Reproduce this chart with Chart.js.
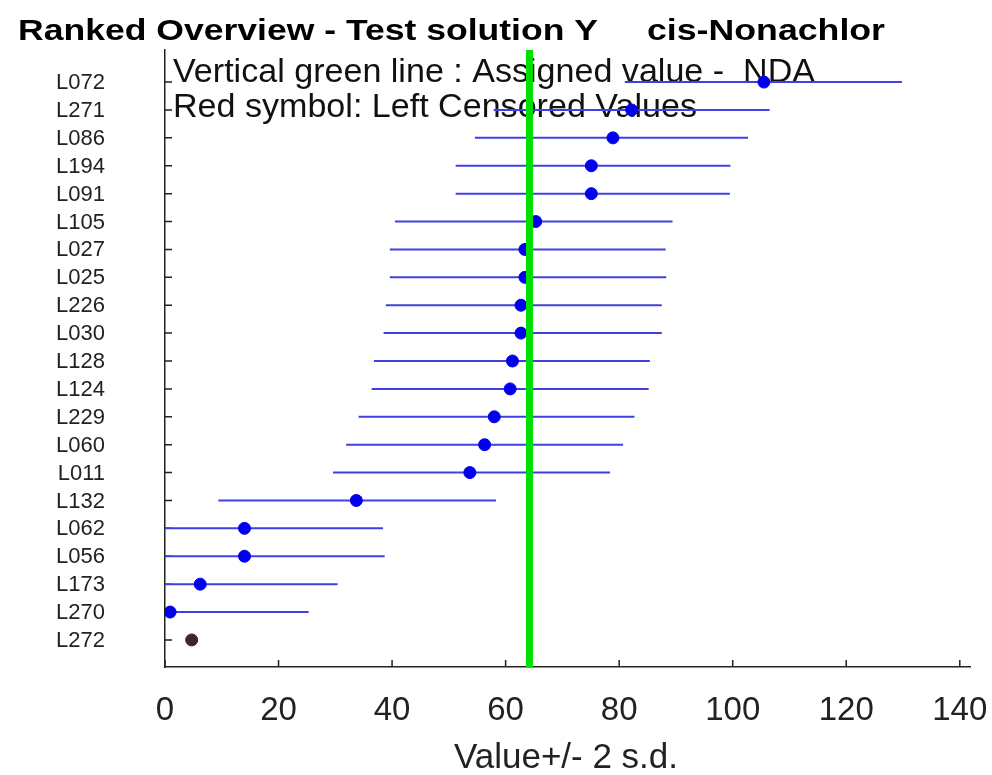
<!DOCTYPE html>
<html lang="en">

<head>
    <meta charset="utf-8" />
    <title>Ranked Overview - cis-Nonachlor</title>
    <script src="https://cdn.jsdelivr.net/npm/chart.js@4"></script>
    <style>
        html, body { margin: 0; padding: 0; background: #fff; }
        #wrap { width: 992px; height: 775px; position: relative; }
    </style>
</head>

<body>
    <div id="wrap"><canvas id="chart"></canvas></div>

    <script>
        // labs ranked from top to bottom
        const labs = ["L072", "L271", "L086", "L194", "L091", "L105", "L027", "L025", "L226", "L030",
                      "L128", "L124", "L229", "L060", "L011", "L132", "L062", "L056", "L173", "L270", "L272"];
        const values = [105.5, 82.2, 78.9, 75.1, 75.1, 65.3, 63.4, 63.4, 62.7, 62.7,
                        61.2, 60.8, 58.0, 56.3, 53.7, 33.7, 14.0, 14.0, 6.2, 0.9, 4.7];
        const lower = [81.0, 57.9, 54.6, 51.2, 51.2, 40.5, 39.6, 39.6, 38.9, 38.5,
                       36.8, 36.4, 34.1, 31.9, 29.6, 9.4, -10.3, -10.2, -17.8, -23.3, null];
        const upper = [129.8, 106.5, 102.7, 99.6, 99.5, 89.4, 88.2, 88.3, 87.5, 87.5,
                       85.4, 85.2, 82.7, 80.7, 78.4, 58.3, 38.4, 38.7, 30.4, 25.3, null];
        // left censored results (drawn with the dark symbol)
        const censored = [false, false, false, false, false, false, false, false, false, false,
                          false, false, false, false, false, false, false, false, false, false, true];
        const assignedValue = 64.2;
        const xTicks = [0, 20, 40, 60, 80, 100, 120, 140];

        const barData = [];
        const dotData = [];
        const censData = [];
        labs.forEach((lab, i) => {
            if (lower[i] !== null) {
                barData.push({ x: lower[i], y: i }, { x: upper[i], y: i }, { x: NaN, y: NaN });
            }
            if (censored[i]) censData.push({ x: values[i], y: i });
            else dotData.push({ x: values[i], y: i });
        });

        const FONT = "'Liberation Sans', Arial, Helvetica, sans-serif";

        // draw text squeezed/stretched to a given width
        function fitText(ctx, text, x, y, width) {
            const w = ctx.measureText(text).width;
            ctx.save();
            ctx.translate(x, y);
            ctx.scale(width / w, 1);
            ctx.textAlign = "left";
            ctx.fillText(text, 0, 0);
            ctx.restore();
            return width / w;
        }

        const overlay = {
            id: "overlay",
            beforeDatasetsDraw(chart) {
                const ctx = chart.ctx;
                const x = chart.scales.x, y = chart.scales.y;
                const area = chart.chartArea;
                ctx.save();
                // notes inside the plot
                ctx.fillStyle = "#111";
                ctx.font = "34px " + FONT;
                ctx.textBaseline = "alphabetic";
                const s = fitText(ctx, "Vertical green line : Assigned value -  NDA", 173, 82, 642);
                const t2 = "Red symbol: Left Censored Values";
                fitText(ctx, t2, 173, 117, ctx.measureText(t2).width * s);
                // inward tick marks
                ctx.strokeStyle = "#222";
                ctx.lineWidth = 1.5;
                ctx.beginPath();
                xTicks.forEach(v => {
                    const px = x.getPixelForValue(v);
                    ctx.moveTo(px, area.bottom);
                    ctx.lineTo(px, area.bottom - 7);
                });
                labs.forEach((lab, i) => {
                    const py = y.getPixelForValue(i);
                    ctx.moveTo(area.left, py);
                    ctx.lineTo(area.left + 7, py);
                });
                ctx.stroke();
                // lab codes
                ctx.fillStyle = "#222";
                ctx.font = "22px " + FONT;
                ctx.textAlign = "right";
                ctx.textBaseline = "middle";
                labs.forEach((lab, i) => {
                    ctx.fillText(lab, 105, y.getPixelForValue(i) + 1);
                });
                ctx.restore();
            },
            afterDraw(chart) {
                const ctx = chart.ctx;
                const x = chart.scales.x;
                ctx.save();
                ctx.fillStyle = "#000";
                ctx.font = "bold 30px " + FONT;
                ctx.textBaseline = "alphabetic";
                fitText(ctx, "Ranked Overview - Test solution Y", 18, 40, 580);
                fitText(ctx, "cis-Nonachlor", 647, 40, 238);
                ctx.fillStyle = "#222";
                ctx.font = "33px " + FONT;
                ctx.textAlign = "center";
                xTicks.forEach(v => {
                    ctx.fillText(String(v), x.getPixelForValue(v), 720);
                });
                ctx.font = "35px " + FONT;
                ctx.fillText("Value+/- 2 s.d.", 566, 768);
                ctx.restore();
            }
        };

        new Chart(document.getElementById("chart"), {
            type: "scatter",
            data: {
                datasets: [
                    {
                        type: "line",
                        data: [{ x: assignedValue, y: -1.15 }, { x: assignedValue, y: 20.97 }],
                        borderColor: "#00e000",
                        borderWidth: 7,
                        pointRadius: 0,
                        order: 0
                    },
                    {
                        data: dotData,
                        backgroundColor: "#0000ee",
                        borderColor: "#0000ee",
                        pointRadius: 6,
                        order: 1
                    },
                    {
                        data: censData,
                        backgroundColor: "#3d2530",
                        borderColor: "#3d2530",
                        pointRadius: 6,
                        order: 1
                    },
                    {
                        type: "line",
                        data: barData,
                        borderColor: "#4040e0",
                        borderWidth: 2,
                        pointRadius: 0,
                        spanGaps: false,
                        order: 2
                    }
                ]
            },
            options: {
                responsive: true,
                maintainAspectRatio: false,
                animation: false,
                events: [],
                layout: { padding: { top: 50, right: 22, left: 0, bottom: 0 }, autoPadding: false },
                plugins: {
                    legend: { display: false },
                    tooltip: { enabled: false }
                },
                scales: {
                    x: {
                        type: "linear",
                        min: 0,
                        max: 141.8,
                        grid: { display: false },
                        border: { display: true, color: "#222", width: 1.5 },
                        ticks: { display: false },
                        afterFit(scale) { scale.height = 108; }
                    },
                    y: {
                        type: "linear",
                        reverse: true,
                        min: -1.15,
                        max: 20.97,
                        grid: { display: false },
                        border: { display: true, color: "#222", width: 1.5 },
                        ticks: { display: false },
                        afterFit(scale) { scale.width = 165; }
                    }
                }
            },
            plugins: [overlay]
        });
    </script>
</body>

</html>
